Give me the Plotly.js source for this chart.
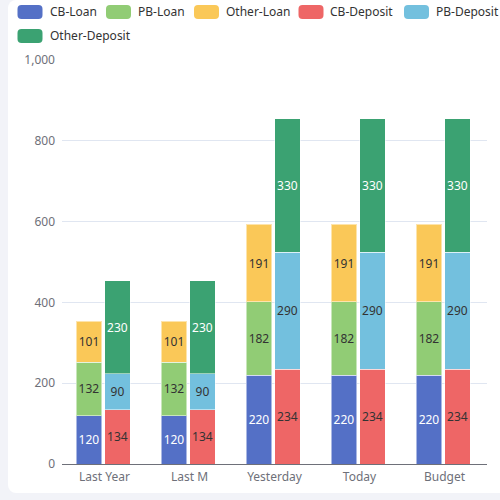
<!DOCTYPE html>
<html>
<head>
<meta charset="utf-8">
<script src="https://cdn.plot.ly/plotly-3.0.1.min.js"></script>
<style>
html,body{margin:0;padding:0;width:500px;height:500px;background:#f2f3f8;overflow:hidden;}
#card{position:absolute;left:8px;top:0;width:500px;height:493px;background:#fff;border-radius:8px;}
#chart{position:absolute;left:0;top:0;width:500px;height:500px;}
</style>
</head>
<body>
<div id="card"></div>
<div id="chart"></div>
<script>
// ---- data ----
const categories = ["Last Year", "Last M", "Yesterday", "Today", "Budget"];
const seriesNames = ["CB-Loan", "PB-Loan", "Other-Loan", "CB-Deposit", "PB-Deposit", "Other-Deposit"];
const cbLoan       = [120, 120, 220, 220, 220];
const pbLoan       = [132, 132, 182, 182, 182];
const otherLoan    = [101, 101, 191, 191, 191];
const cbDeposit    = [134, 134, 234, 234, 234];
const pbDeposit    = [90, 90, 290, 290, 290];
const otherDeposit = [230, 230, 330, 330, 330];
const yTicks = [0, 200, 400, 600, 800, 1000];

// ---- styles ----
const colors = ["#5470c6", "#91cc75", "#fac858", "#ee6666", "#73c0de", "#3ba272"];
const labelColors = ["#ffffff", "#333333", "#333333", "#333333", "#333333", "#ffffff"];
const values = [cbLoan, pbLoan, otherLoan, cbDeposit, pbDeposit, otherDeposit];
const FONT = "Noto Sans, Open Sans, sans-serif";

// plot area in pixels
const L = 62, R = 487, T = 60, B = 464;
const px2x = p => (p - L) / (R - L);
const py2y = p => (B - p) / (B - T);

const traces = seriesNames.map((name, i) => {
  const isLoan = i < 3;
  return {
    type: "bar",
    name: name,
    x: categories,
    y: values[i],
    xaxis: isLoan ? "x" : "x2",
    yaxis: "y",
    offset: isLoan ? -0.335 : 0.0,
    width: 0.305,
    marker: { color: colors[i], line: { color: "rgba(255,255,255,0.5)", width: 1 } },
    texttemplate: "%{y}",
    textposition: "inside",
    insidetextanchor: "middle",
    textangle: 0,
    constraintext: "none",
    textfont: { family: FONT, size: 12, color: labelColors[i] },
    hoverinfo: "skip",
    showlegend: false
  };
});

// manual legend (rounded icons + text)
const legendItems = [
  { icon: 30, text: 47.5, y: 12 },
  { icon: 118.5, text: 135.5, y: 12 },
  { icon: 206.5, text: 223.5, y: 12 },
  { icon: 311, text: 328, y: 12 },
  { icon: 416.5, text: 433.5, y: 12 },
  { icon: 30, text: 47.5, y: 36 }
];
const iconPath = "M-8.5,-7 H8.5 Q12.5,-7 12.5,-3 V3 Q12.5,7 8.5,7 H-8.5 Q-12.5,7 -12.5,3 V-3 Q-12.5,-7 -8.5,-7 Z";
const shapes = legendItems.map((it, i) => ({
  type: "path",
  xref: "paper", yref: "paper",
  xsizemode: "pixel", ysizemode: "pixel",
  xanchor: px2x(it.icon), yanchor: py2y(it.y),
  path: iconPath,
  fillcolor: colors[i],
  line: { width: 0 },
  layer: "above"
}));
const annotations = legendItems.map((it, i) => ({
  xref: "paper", yref: "paper",
  x: px2x(it.text), y: py2y(it.y - 0.5),
  xanchor: "left", yanchor: "middle",
  text: seriesNames[i],
  showarrow: false,
  font: { family: FONT, size: 12, color: "#333333" }
}));

const layout = {
  width: 500, height: 500,
  margin: { l: L, r: 500 - R, t: T, b: 500 - B, pad: 0 },
  paper_bgcolor: "rgba(0,0,0,0)",
  plot_bgcolor: "rgba(0,0,0,0)",
  barmode: "stack",
  showlegend: false,
  font: { family: FONT, size: 12, color: "#6e7079" },
  xaxis: {
    type: "category",
    categoryarray: categories,
    range: [-0.5, categories.length - 0.5],
    showline: true, linecolor: "#6e7079", linewidth: 1,
    ticks: "", showgrid: false, zeroline: false,
    tickfont: { family: FONT, size: 12, color: "#6e7079" },
    ticklabelstandoff: 2,
    fixedrange: true
  },
  xaxis2: {
    type: "category",
    categoryarray: categories,
    overlaying: "x",
    range: [-0.5, categories.length - 0.5],
    visible: false,
    fixedrange: true
  },
  yaxis: {
    range: [0, 1000],
    tickvals: yTicks,
    tickformat: ",",
    showgrid: true, gridcolor: "#e0e6f1", gridwidth: 1,
    zeroline: false, showline: false, ticks: "",
    tickfont: { family: FONT, size: 12, color: "#6e7079" },
    ticklabelstandoff: 6,
    fixedrange: true
  },
  shapes: shapes,
  annotations: annotations
};

Plotly.newPlot("chart", traces, layout, { displayModeBar: false, staticPlot: true });
</script>
</body>
</html>
